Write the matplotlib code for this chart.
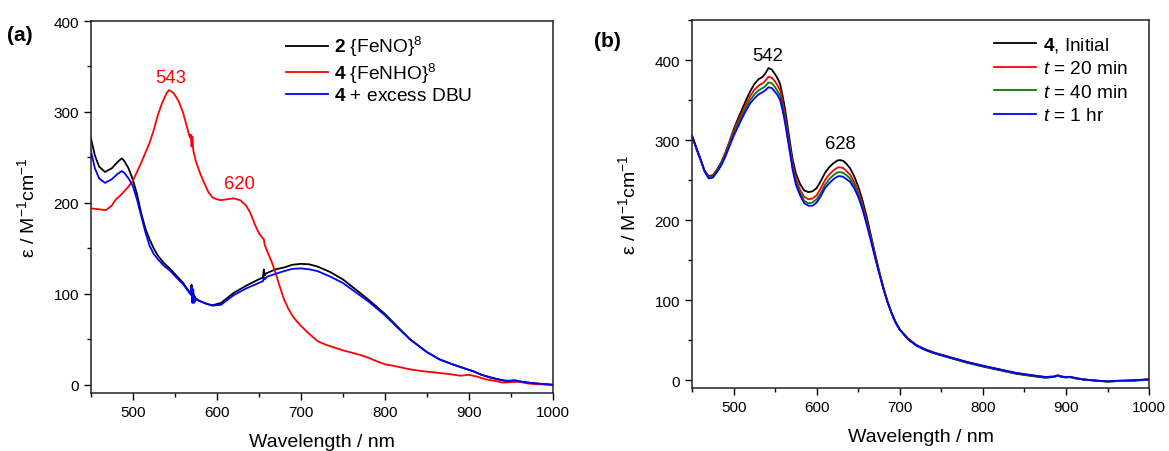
import matplotlib.pyplot as plt
from matplotlib.ticker import MultipleLocator

plt.rcParams['font.family'] = ['Liberation Sans', 'DejaVu Sans']
plt.rcParams['mathtext.fontset'] = 'custom'
plt.rcParams['mathtext.rm'] = 'Liberation Sans'
plt.rcParams['mathtext.it'] = 'Liberation Sans:italic'
plt.rcParams['mathtext.bf'] = 'Liberation Sans:bold'

# ---- panel (a) data ----
wl_no = [450, 455, 460, 467, 475, 482, 487, 490, 495, 500, 505, 510, 515, 520, 525, 530,
         537, 545, 552, 560, 566, 569, 570, 571, 572, 575, 580, 588, 595, 605, 620, 635,
         650, 655, 656, 657, 658, 660, 670, 680, 690, 700, 710, 720, 735, 750, 765, 780,
         800, 815, 830, 850, 865, 880, 895, 905, 915, 925, 935, 945, 955, 965, 980, 1000]
eps_no = [272, 252, 240, 234, 238, 245, 249, 246, 238, 226, 210, 189, 172, 160, 150, 142,
          134, 127, 120, 112, 104, 100, 110, 92, 100, 95, 92, 89, 87.5, 90, 101, 109,
          116, 118, 127, 120, 122, 123, 127, 129, 132, 133, 132.5, 130, 124, 116, 105, 94,
          78, 64, 50, 36, 28, 22.7, 18, 15, 11, 8, 6, 4, 4.5, 3, 1.5, 0]

wl_dbu = [450, 455, 460, 467, 475, 482, 487, 490, 495, 500, 505, 510, 515, 520, 525, 530,
          537, 545, 552, 560, 566, 569, 570, 571, 572, 573, 575, 580, 588, 595, 605, 620,
          635, 650, 655, 656, 657, 660, 670, 680, 690, 700, 710, 720, 735, 750, 765, 780,
          800, 815, 830, 850, 865, 880, 895, 905, 915, 925, 935, 945, 955, 965, 980, 1000]
eps_dbu = [258, 238, 227, 222, 226, 232, 235, 233, 227, 219, 204, 186, 168, 153, 144, 138,
           131, 125, 118, 110.6, 103, 99, 108, 90, 105, 90, 94, 92, 89, 87, 88, 98.5,
           106, 112, 114, 118, 116, 119, 122, 125, 127.5, 128, 127, 125, 119, 112, 102, 92,
           76.5, 63, 50, 36, 28, 22.7, 18, 15, 11, 8.5, 6, 4.5, 5, 3, 1.5, 0]

wl_nho = [450, 460, 468, 475, 480, 485, 487, 490, 495, 500, 505, 510, 515, 520, 525, 530,
          535, 540, 543, 547, 550, 555, 560, 565, 568, 569, 570, 571, 572, 575, 580, 585,
          590, 595, 600, 605, 612, 620, 628, 635, 640, 645, 650, 654, 656, 657, 660, 665,
          670, 675, 680, 685, 690, 695, 700, 710, 720, 730, 740, 750, 760, 770, 780, 790,
          800, 815, 830, 845, 860, 875, 890, 900, 910, 920, 930, 940, 950, 960, 970, 980, 1000]
eps_nho = [194, 193, 192, 197, 204, 208, 210, 213, 218, 224, 234, 244, 255, 266, 280, 297,
           310, 320, 324, 322, 319, 311, 299, 282, 272, 275, 262, 273, 258, 246, 233, 222,
           212, 206, 204, 203, 204, 205, 203, 197, 189, 177, 167, 162, 160, 154, 147, 136,
           123, 108, 94, 84, 76, 70, 65, 56, 48, 44, 41, 38, 35.5, 33, 30, 26,
           22.7, 20, 17, 15, 13.5, 12, 10, 11, 9, 6, 4.5, 2.5, 3, 3.3, 1.5, 0.7, 0]

# ---- panel (b) data ----
wl_t = [450, 455, 460, 465, 470, 475, 480, 485, 490, 495, 500, 505, 510, 515, 520, 525,
        530, 535, 538, 542, 546, 550, 553, 556, 559, 562, 565, 568, 571, 575, 580, 585,
        590, 595, 600, 605, 610, 615, 620, 625, 628, 632, 636, 640, 645, 650, 655, 660,
        665, 670, 675, 680, 685, 690, 695, 700, 710, 720, 730, 740, 760, 780, 800, 820,
        840, 860, 875, 885, 890, 895, 900, 905, 910, 920, 935, 950, 965, 980, 1000]
eps_t0 = [305, 290, 276, 262, 255, 256, 263, 272, 284, 298, 313, 326, 338, 350, 361, 370,
          376, 379, 383, 390, 388, 382, 377, 370, 355, 338, 317, 296, 276, 258, 245, 237,
          235, 236, 240, 249, 259, 266, 271, 274.5, 275, 274, 270, 265, 255, 242, 225, 205,
          182, 159, 137, 117, 99, 84, 72, 63, 51, 43, 38, 34, 28, 22, 17, 12.5,
          8, 5, 3, 4, 5.5, 4, 3.5, 3.8, 2.5, 1, -0.5, -1.5, -1, -0.5, 1]
eps_t20 = [305, 290, 276, 262, 254, 255, 262, 271, 283, 297, 311, 323, 334, 345, 355, 363,
           368, 371, 374, 379, 378, 373, 368, 362, 347, 330, 310, 290, 270, 252, 238, 229,
           226, 227, 231, 240, 250, 257, 262, 265.5, 266, 265, 261, 257, 248, 236, 220, 200,
           179, 157, 136, 116, 99, 84, 72.5, 63.5, 52, 44, 39, 35, 29, 23, 18, 13.5,
           9, 6, 4, 4.5, 6, 4.5, 4, 4, 3, 1, -0.5, -1.5, -1, -0.5, 1]
eps_t40 = [305, 290, 276, 261, 253, 254, 261, 270, 281, 294, 308, 320, 330, 341, 350, 357,
           362, 365, 367, 372, 371, 366, 361, 355, 341, 325, 305, 286, 266, 247, 234, 224,
           221, 222, 226, 234, 244, 251, 256, 259.5, 260, 259, 256, 252, 244, 232, 217, 197,
           177, 155, 135, 115, 98, 84, 72, 63, 51.5, 43.5, 38.5, 34.5, 28.5, 22.5, 17.5, 13,
           8.5, 5.5, 3.5, 4, 5.5, 4, 3.5, 3.8, 2.5, 1, -0.5, -2, -1, -1, 0.5]
eps_t60 = [306, 291, 277, 261, 252, 253, 260, 268, 279, 292, 305, 316, 327, 337, 346, 352,
           357, 360, 362, 366, 365, 360, 356, 350, 337, 321, 302, 283, 263, 244, 231, 221,
           218, 218, 222, 230, 240, 246, 251, 254.5, 255, 254, 251, 248, 240, 229, 214, 195,
           175, 154, 134, 115, 98, 84, 72, 63, 51.5, 43.5, 38.5, 34.5, 28.5, 23, 18, 13.5,
           9, 6, 4, 4.5, 6, 4.5, 4, 4.2, 3, 1, -0.5, -1.5, -0.5, 0, 1]

fig = plt.figure(figsize=(11.69, 4.52), dpi=100)
ax1 = fig.add_axes([0.0776, 0.1283, 0.3954, 0.823])
ax2 = fig.add_axes([0.592, 0.139, 0.391, 0.8145])

lw = 1.3
ax1.plot(wl_no, eps_no, color='black', lw=lw, label=r'$\mathbf{2}$ {FeNO}$^{8}$')
ax1.plot(wl_nho, eps_nho, color='#ff0000', lw=lw, label=r'$\mathbf{4}$ {FeNHO}$^{8}$')
ax1.plot(wl_dbu, eps_dbu, color='#0000ff', lw=lw, label=r'$\mathbf{4}$ + excess DBU')
ax1.set_xlim(450, 1000)
ax1.set_ylim(-9, 400)
ax1.yaxis.set_major_locator(MultipleLocator(100))
ax1.text(545, 338, '543', color='#ff0000', fontsize=13.3, ha='center', va='center')
ax1.text(627, 221, '620', color='#ff0000', fontsize=13.3, ha='center', va='center')
ax1.legend(loc='upper left', bbox_to_anchor=(0.405, 0.985), frameon=False, fontsize=13.8,
           handlelength=2.2, handletextpad=0.35, labelspacing=0.12, borderaxespad=0)

ax2.plot(wl_t, eps_t0, color='black', lw=lw, label=r'$\mathbf{4}$, Initial')
ax2.plot(wl_t, eps_t20, color='#ff0000', lw=lw, label=r'$t$ = 20 min')
ax2.plot(wl_t, eps_t40, color='#008000', lw=lw, label=r'$t$ = 40 min')
ax2.plot(wl_t, eps_t60, color='#0000ff', lw=lw, label=r'$t$ = 1 hr')
ax2.set_xlim(450, 1000)
ax2.set_ylim(-10, 450)
ax2.yaxis.set_major_locator(MultipleLocator(100))
ax2.text(541, 406, '542', color='black', fontsize=13.3, ha='center', va='center')
ax2.text(628, 296, '628', color='black', fontsize=13.3, ha='center', va='center')
ax2.legend(loc='upper left', bbox_to_anchor=(0.645, 0.98), frameon=False, fontsize=13.7,
           handlelength=2.2, handletextpad=0.35, labelspacing=0.32, borderaxespad=0)

for ax in (ax1, ax2):
    ax.xaxis.set_major_locator(MultipleLocator(100))
    ax.xaxis.set_minor_locator(MultipleLocator(50))
    ax.yaxis.set_minor_locator(MultipleLocator(50))
    ax.tick_params(which='major', direction='out', length=5, width=1, labelsize=11,
                   top=False, right=False)
    ax.tick_params(which='minor', direction='out', length=3, width=1, top=False, right=False)
    for s in ax.spines.values():
        s.set_linewidth(1.1)
        s.set_color('#222222')
    ax.set_xlabel('Wavelength / nm', fontsize=14, labelpad=10)
    ax.set_ylabel(r'ε / M$^{-1}$cm$^{-1}$', fontsize=14, labelpad=11)

fig.text(0.006, 0.909, '(a)', fontsize=15, fontweight='bold')
fig.text(0.508, 0.896, '(b)', fontsize=15, fontweight='bold')

fig.savefig('out.png', dpi=100)
